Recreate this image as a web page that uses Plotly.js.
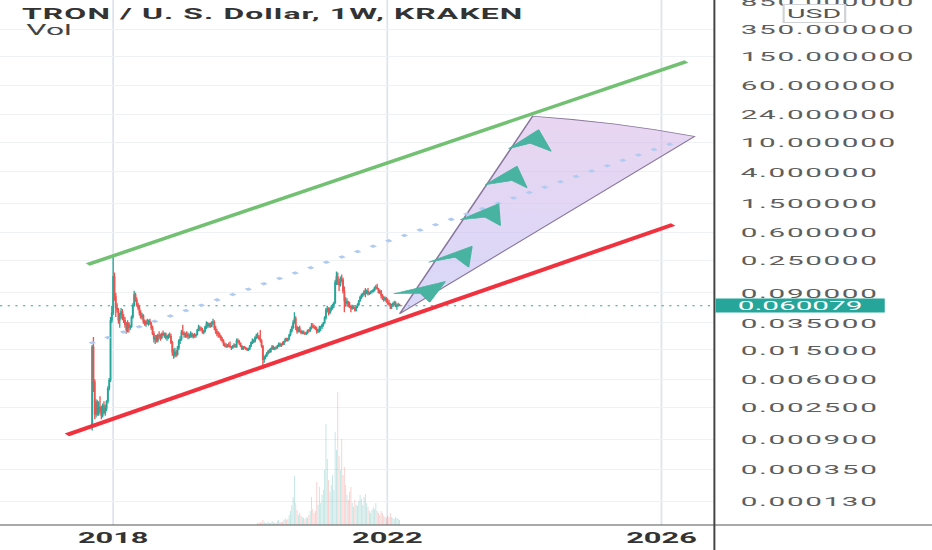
<!DOCTYPE html>
<html><head><meta charset="utf-8">
<script src="https://cdn.plot.ly/plotly-3.0.1.min.js"></script>
<style>
html,body{margin:0;padding:0;background:#fff;overflow:hidden;}
#wrap{width:932px;height:550px;overflow:hidden;position:relative;}
/* the reference screenshot is horizontally stretched; draw in a narrow frame and stretch it the same way */
#chart{width:424px;height:550px;transform:scaleX(2.198113);transform-origin:0 0;}
#chart .ytick text{letter-spacing:0.75px;}
#chart .gtitle{letter-spacing:0.5px;}
</style></head><body>
<div id="wrap"><div id="chart"></div></div>
<script>
// ---------- weekly candles (TRX/USD), first week starts 2017-09-11 ----------
const firstWeek = '2017-09-11';
const opens = [
.0013,.0165,.0055,.0020,.0029,.0021,.0025,.0022,.0019,.0026,
.0021,.0024,.0030,.0045,.0058,.0380,.0480,.1500,.0800,.0560,
.0520,.0380,.0450,.0500,.0410,.0380,.0330,.0280,.0340,.0300,
.0310,.0420,.0600,.0850,.0720,.0620,.0560,.0480,.0420,.0440,
.0360,.0340,.0370,.0350,.0370,.0340,.0300,.0250,.0210,.0220,
.0200,.0240,.0230,.0220,.0250,.0240,.0250,.0220,.0230,.0240,
.0230,.0190,.0140,.0125,.0140,.0130,.0160,.0200,.0210,.0260,
.0250,.0240,.0250,.0230,.0240,.0225,.0250,.0230,.0240,.0235,
.0240,.0280,.0300,.0290,.0285,.0260,.0270,.0310,.0340,.0320,
.0340,.0310,.0350,.0360,.0300,.0270,.0250,.0245,.0230,.0210,
.0200,.0180,.0170,.0165,.0175,.0170,.0165,.0160,.0170,.0175,
.0165,.0200,.0195,.0185,.0170,.0155,.0165,.0160,.0155,.0150,
.0155,.0170,.0190,.0200,.0195,.0220,.0235,.0225,.0215,.0200,
.0170,.0110,.0120,.0125,.0135,.0145,.0140,.0155,.0165,.0155,
.0160,.0158,.0170,.0180,.0172,.0180,.0178,.0195,.0210,.0200,
.0215,.0240,.0270,.0300,.0350,.0400,.0300,.0270,.0300,.0270,
.0260,.0265,.0255,.0250,.0255,.0275,.0270,.0300,.0320,.0310,
.0300,.0290,.0270,.0280,.0300,.0310,.0330,.0350,.0410,.0530,
.0550,.0480,.0540,.0560,.0600,.0650,.1250,.1500,.1250,.1150,
.1400,.1350,.0950,.0700,.0650,.0680,.0600,.0580,.0550,.0580,
.0560,.0520,.0580,.0620,.0700,.0780,.0830,.0860,.0930,.0880,
.0950,.0880,.0900,.0930,.0950,.0980,.1050,.1080,.1020,.0900,
.0950,.0820,.0780,.0720,.0760,.0680,.0650,.0630,.0580,.0620,
.0640,.0660,.0590,.0610,.0620];
const highs = [
.0175,.0225,.0060,.0032,.0031,.0030,.0035,.0026,.0028,.0030,
.0027,.0031,.0048,.0062,.0420,.0600,.2900,.1700,.0900,.0650,
.0560,.0480,.0560,.0540,.0460,.0420,.0360,.0380,.0360,.0330,
.0440,.0650,.0960,.0900,.0780,.0660,.0600,.0520,.0480,.0460,
.0390,.0380,.0400,.0390,.0400,.0360,.0320,.0270,.0240,.0240,
.0250,.0270,.0250,.0260,.0275,.0260,.0260,.0240,.0250,.0260,
.0250,.0200,.0155,.0160,.0150,.0170,.0210,.0230,.0280,.0330,
.0270,.0260,.0270,.0260,.0250,.0270,.0260,.0250,.0255,.0250,
.0290,.0330,.0320,.0310,.0300,.0280,.0320,.0370,.0360,.0350,
.0355,.0370,.0400,.0380,.0320,.0290,.0270,.0260,.0240,.0225,
.0210,.0190,.0185,.0180,.0190,.0195,.0170,.0175,.0185,.0180,
.0215,.0215,.0205,.0190,.0175,.0170,.0170,.0165,.0160,.0160,
.0175,.0195,.0215,.0210,.0230,.0250,.0260,.0240,.0280,.0210,
.0175,.0125,.0130,.0140,.0150,.0155,.0160,.0175,.0172,.0165,
.0170,.0175,.0190,.0190,.0185,.0195,.0200,.0220,.0220,.0220,
.0250,.0290,.0320,.0380,.0490,.0430,.0320,.0310,.0320,.0285,
.0275,.0275,.0265,.0265,.0285,.0290,.0310,.0350,.0345,.0330,
.0320,.0310,.0290,.0320,.0320,.0340,.0360,.0430,.0560,.0600,
.0570,.0570,.0600,.0640,.0680,.1350,.1750,.1700,.1400,.1500,
.1600,.1450,.1100,.0780,.0760,.0700,.0680,.0620,.0620,.0610,
.0580,.0600,.0650,.0720,.0820,.0880,.0900,.0980,.1050,.1000,
.1050,.0930,.0960,.0980,.1020,.1100,.1150,.1200,.1050,.1000,
.0980,.0870,.0820,.0800,.0790,.0750,.0720,.0660,.0640,.0670,
.0700,.0690,.0640,.0660,.0640];
const lows = [
.0012,.0040,.0017,.0018,.0019,.0019,.0020,.0017,.0018,.0020,
.0019,.0022,.0028,.0042,.0055,.0350,.0450,.0700,.0420,.0480,
.0340,.0300,.0400,.0380,.0350,.0300,.0250,.0260,.0260,.0280,
.0300,.0400,.0580,.0680,.0580,.0520,.0440,.0400,.0390,.0340,
.0320,.0310,.0330,.0320,.0330,.0280,.0240,.0190,.0180,.0190,
.0190,.0210,.0200,.0210,.0230,.0220,.0210,.0200,.0210,.0220,
.0180,.0125,.0114,.0118,.0120,.0125,.0150,.0180,.0200,.0240,
.0220,.0220,.0220,.0210,.0215,.0220,.0220,.0215,.0220,.0220,
.0235,.0270,.0270,.0270,.0250,.0245,.0260,.0290,.0300,.0300,
.0300,.0305,.0330,.0280,.0250,.0230,.0220,.0220,.0200,.0190,
.0170,.0165,.0160,.0160,.0165,.0160,.0150,.0155,.0160,.0160,
.0160,.0185,.0175,.0165,.0150,.0150,.0155,.0150,.0145,.0145,
.0150,.0165,.0180,.0185,.0190,.0210,.0215,.0205,.0190,.0160,
.0083,.0100,.0112,.0120,.0130,.0135,.0138,.0150,.0150,.0148,
.0152,.0155,.0165,.0165,.0165,.0172,.0175,.0190,.0195,.0195,
.0205,.0230,.0260,.0290,.0340,.0280,.0250,.0260,.0260,.0245,
.0245,.0245,.0240,.0240,.0245,.0260,.0265,.0285,.0295,.0290,
.0280,.0250,.0255,.0260,.0270,.0290,.0310,.0340,.0390,.0490,
.0440,.0460,.0500,.0530,.0560,.0640,.1150,.1150,.0950,.1100,
.1250,.0880,.0490,.0580,.0620,.0570,.0560,.0490,.0530,.0540,
.0500,.0500,.0560,.0600,.0680,.0740,.0790,.0830,.0780,.0860,
.0830,.0840,.0860,.0880,.0910,.0940,.0990,.1000,.0880,.0870,
.0750,.0720,.0680,.0700,.0660,.0620,.0600,.0540,.0540,.0580,
.0610,.0570,.0530,.0580,.0590];
const closes = [
.0165,.0055,.0020,.0029,.0021,.0025,.0022,.0019,.0026,.0021,
.0024,.0030,.0045,.0058,.0380,.0480,.1500,.0800,.0560,.0520,
.0380,.0450,.0500,.0410,.0380,.0330,.0280,.0340,.0300,.0310,
.0420,.0600,.0850,.0720,.0620,.0560,.0480,.0420,.0440,.0360,
.0340,.0370,.0350,.0370,.0340,.0300,.0250,.0210,.0220,.0200,
.0240,.0230,.0220,.0250,.0240,.0250,.0220,.0230,.0240,.0230,
.0190,.0140,.0125,.0140,.0130,.0160,.0200,.0210,.0260,.0250,
.0240,.0250,.0230,.0240,.0225,.0250,.0230,.0240,.0235,.0240,
.0280,.0300,.0290,.0285,.0260,.0270,.0310,.0340,.0320,.0340,
.0310,.0350,.0360,.0300,.0270,.0250,.0245,.0230,.0210,.0200,
.0180,.0170,.0165,.0175,.0170,.0165,.0160,.0170,.0175,.0165,
.0200,.0195,.0185,.0170,.0155,.0165,.0160,.0155,.0150,.0155,
.0170,.0190,.0200,.0195,.0220,.0235,.0225,.0215,.0200,.0170,
.0110,.0120,.0125,.0135,.0145,.0140,.0155,.0165,.0155,.0160,
.0158,.0170,.0180,.0172,.0180,.0178,.0195,.0210,.0200,.0215,
.0240,.0270,.0300,.0350,.0400,.0300,.0270,.0300,.0270,.0260,
.0265,.0255,.0250,.0255,.0275,.0270,.0300,.0320,.0310,.0300,
.0290,.0270,.0280,.0300,.0310,.0330,.0350,.0410,.0530,.0550,
.0480,.0540,.0560,.0600,.0650,.1250,.1500,.1250,.1150,.1400,
.1350,.0950,.0700,.0650,.0680,.0600,.0580,.0550,.0580,.0560,
.0520,.0580,.0620,.0700,.0780,.0830,.0860,.0930,.0880,.0950,
.0880,.0900,.0930,.0950,.0980,.1050,.1080,.1020,.0900,.0950,
.0820,.0780,.0720,.0760,.0680,.0650,.0630,.0580,.0620,.0640,
.0660,.0590,.0610,.0620,.060079];
// weekly volume (millions), starting at week index 126 (earlier weeks ~0)
const volStartIndex = 126;
const volumes = [
2,2,3,2,5,3,2,2,3,2,
2,4,3,2,2,4,5,3,3,3,
5,7,5,6,10,14,20,28,49,22,
15,10,12,9,8,7,6,8,7,10,
14,28,16,12,14,43,20,38,22,30,
35,55,101,66,45,33,40,50,35,93,
75,133,69,55,86,50,58,40,30,25,
33,38,22,18,25,20,19,24,30,26,
20,28,31,22,18,14,12,15,18,16,
22,14,12,10,14,12,9,8,7,9,
8,12,8,7,6,8,7,6,5];

// ---------- axes ----------
const xRange = ['2016-05-08','2026-10-10'];
const xTickVals = ['2018-01-01','2022-01-01','2026-01-01'];
const xTickText = ['2018','2022','2026'];
const yLogRange = [-4.209, 2.943];
const yTickVals = [850,350,150,60,24,10,4,1.5,0.6,0.25,0.09,0.035,0.015,0.006,0.0025,0.0009,0.00035,0.00013];
const yTickText = ['850.000000','350.000000','150.000000','60.000000','24.000000','10.000000','4.000000','1.500000','0.600000','0.250000','0.090000','0.035000','0.015000','0.006000','0.002500','0.000900','0.000350','0.000130'];
const volRange = [0, 525];

// ---------- drawings (decimal year, price) ----------
const greenT = [2017.628, 2026.365], greenP = [0.2187, 127.4];
const redT = [2017.324, 2026.171], redP = [0.001045, 0.767];
const projT = [2017.664, 2026.321], projP = [0.01833, 11.03];
const wedgeT = [2022.180, 2024.121, 2024.701, 2025.299, 2025.898, 2026.482, 2022.180];
const wedgeP = [0.04656, 22.9, 20.66, 18.05, 15.01, 12.12, 0.04656];
const arrowsT = [
 [2022.092, 2022.847, 2022.618, 2022.482, 2022.092],
 [2022.603, 2023.236, 2023.187, 2022.993, 2022.603],
 [2023.066, 2023.625, 2023.650, 2023.431, 2023.066],
 [2023.431, 2023.893, 2024.039, 2023.820, 2023.431],
 [2023.771, 2024.209, 2024.390, 2024.088, 2023.771]];
const arrowsP = [
 [0.08717, 0.1282, 0.06699, 0.08884, 0.08717],
 [0.2350, 0.3882, 0.2009, 0.2748, 0.2350],
 [0.8883, 1.467, 0.743, 0.9638, 0.8883],
 [2.664, 4.774, 2.424, 3.048, 2.664],
 [8.241, 14.96, 7.641, 9.822, 8.241]];

// ---------- helpers ----------
function yr(y){const Y=Math.floor(y);const a=Date.UTC(Y,0,1),b=Date.UTC(Y+1,0,1);
  return new Date(a+(y-Y)*(b-a)).toISOString().replace('T',' ').slice(0,19);}
const t0 = Date.parse(firstWeek+'T00:00:00Z');
const dates = closes.map((_,i)=>new Date(t0+i*7*864e5).toISOString().slice(0,10));
const volDates = dates.slice(volStartIndex, volStartIndex+volumes.length);
const volColors = volumes.map((_,k)=>{const i=volStartIndex+k;
  return closes[i]>=opens[i]?'rgba(38,166,154,0.3)':'rgba(239,83,80,0.3)';});
const last = closes[closes.length-1];

const GREEN='#26a69a', RED='#ef5350';
const traces = [
 {type:'bar', x:volDates, y:volumes, yaxis:'y2', marker:{color:volColors, line:{width:0}}, width:4.5*864e5, hoverinfo:'skip'},
 {type:'candlestick', x:dates, open:opens, high:highs, low:lows, close:closes, whiskerwidth:0,
  increasing:{line:{color:GREEN,width:0.6}, fillcolor:GREEN},
  decreasing:{line:{color:RED,width:0.6}, fillcolor:RED}, hoverinfo:'skip'},
 {type:'scatter', mode:'lines', x:xRange, y:[last,last], line:{color:GREEN,width:1,dash:'1px,2.5px'}, hoverinfo:'skip'},
 {type:'scatter', mode:'lines', x:greenT.map(yr), y:greenP, line:{color:'#72c072',width:3}, hoverinfo:'skip'},
 {type:'scatter', mode:'lines', x:redT.map(yr), y:redP, line:{color:'#f0323f',width:3.4}, hoverinfo:'skip'},
 {type:'scatter', mode:'lines', x:wedgeT.map(yr), y:wedgeP, fill:'toself',
  fillgradient:{type:'vertical', colorscale:[[0,'rgba(190,190,245,0.6)'],[1,'rgba(215,180,230,0.55)']]},
  line:{color:'rgba(125,105,145,0.9)',width:0.8}, hoverinfo:'skip'},
 {type:'scatter', mode:'lines', x:projT.map(yr), y:projP, line:{color:'#b1cbf0',width:2.6,dash:'2.4px,6.5px'}, hoverinfo:'skip'}
];
arrowsT.forEach((t,k)=>traces.push({type:'scatter', mode:'lines', x:t.map(yr), y:arrowsP[k], fill:'toself',
  fillcolor:'#48b3a0', line:{color:'#48b3a0',width:0.6}, hoverinfo:'skip'}));

const plotW = 324.8, W = 424, H = 550, B = 25;
const layout = {
 width:W, height:H, margin:{l:0, r:W-plotW, t:0, b:B, pad:0},
 paper_bgcolor:'#ffffff', plot_bgcolor:'#ffffff', showlegend:false,
 font:{family:'Roboto, sans-serif', color:'#333'},
 title:{text:'<b>TRON / U. S. Dollar, 1W, KRAKEN</b>', xref:'container', yref:'container',
   x:10/W, xanchor:'left', y:1-13.5/H, yanchor:'middle', font:{size:14.5,color:'#333'}},
 xaxis:{type:'date', range:xRange, tickvals:xTickVals, ticktext:xTickText, showgrid:true,
   gridcolor:'#dde4ec', gridwidth:0.8, zeroline:false, showline:false, ticks:'',
   tickfont:{size:14,color:'#333',weight:'bold'}, ticklabelstandoff:3, rangeslider:{visible:false}, fixedrange:true},
 yaxis:{type:'log', side:'right', range:yLogRange, tickvals:yTickVals, ticktext:yTickText,
   showgrid:true, gridcolor:'#eef1f5', gridwidth:1, zeroline:false, showline:false, ticks:'',
   tickfont:{size:13.5,color:'#5e5e5e'}, ticklabelstandoff:11, ticklabeloverflow:'allow', fixedrange:true},
 yaxis2:{overlaying:'y', range:volRange, visible:false, fixedrange:true},
 annotations:[
  {xref:'paper', yref:'paper', x:10/plotW, y:1-31/(H-B), xanchor:'left', yanchor:'middle', text:'Vol',
   showarrow:false, font:{size:14.5,color:'#444'}},
  {xref:'paper', yref:'paper', x:370/plotW, y:1-13/(H-B), xanchor:'center', yanchor:'middle', text:'USD',
   showarrow:false, bordercolor:'#cfd3d8', borderwidth:1, borderpad:1, bgcolor:'#ffffff', font:{size:13,color:'#555'}},
  {xref:'paper', yref:'y', x:1, y:Math.log10(last), xanchor:'left', yanchor:'middle', text:last.toFixed(6),
   showarrow:false, bgcolor:GREEN, width:76, height:13, align:'center', borderpad:0, font:{size:13.5,color:'#ffffff'}}
 ],
 shapes:[
  {type:'line', xref:'paper', yref:'paper', x0:0, x1:W/plotW, y0:0, y1:0, line:{color:'#555',width:1.2}},
  {type:'line', xref:'paper', yref:'paper', x0:1, x1:1, y0:-B/(H-B), y1:1, line:{color:'#444',width:0.9}}
 ]
};
Plotly.newPlot('chart', traces, layout, {staticPlot:true, displayModeBar:false});
</script></body></html>
